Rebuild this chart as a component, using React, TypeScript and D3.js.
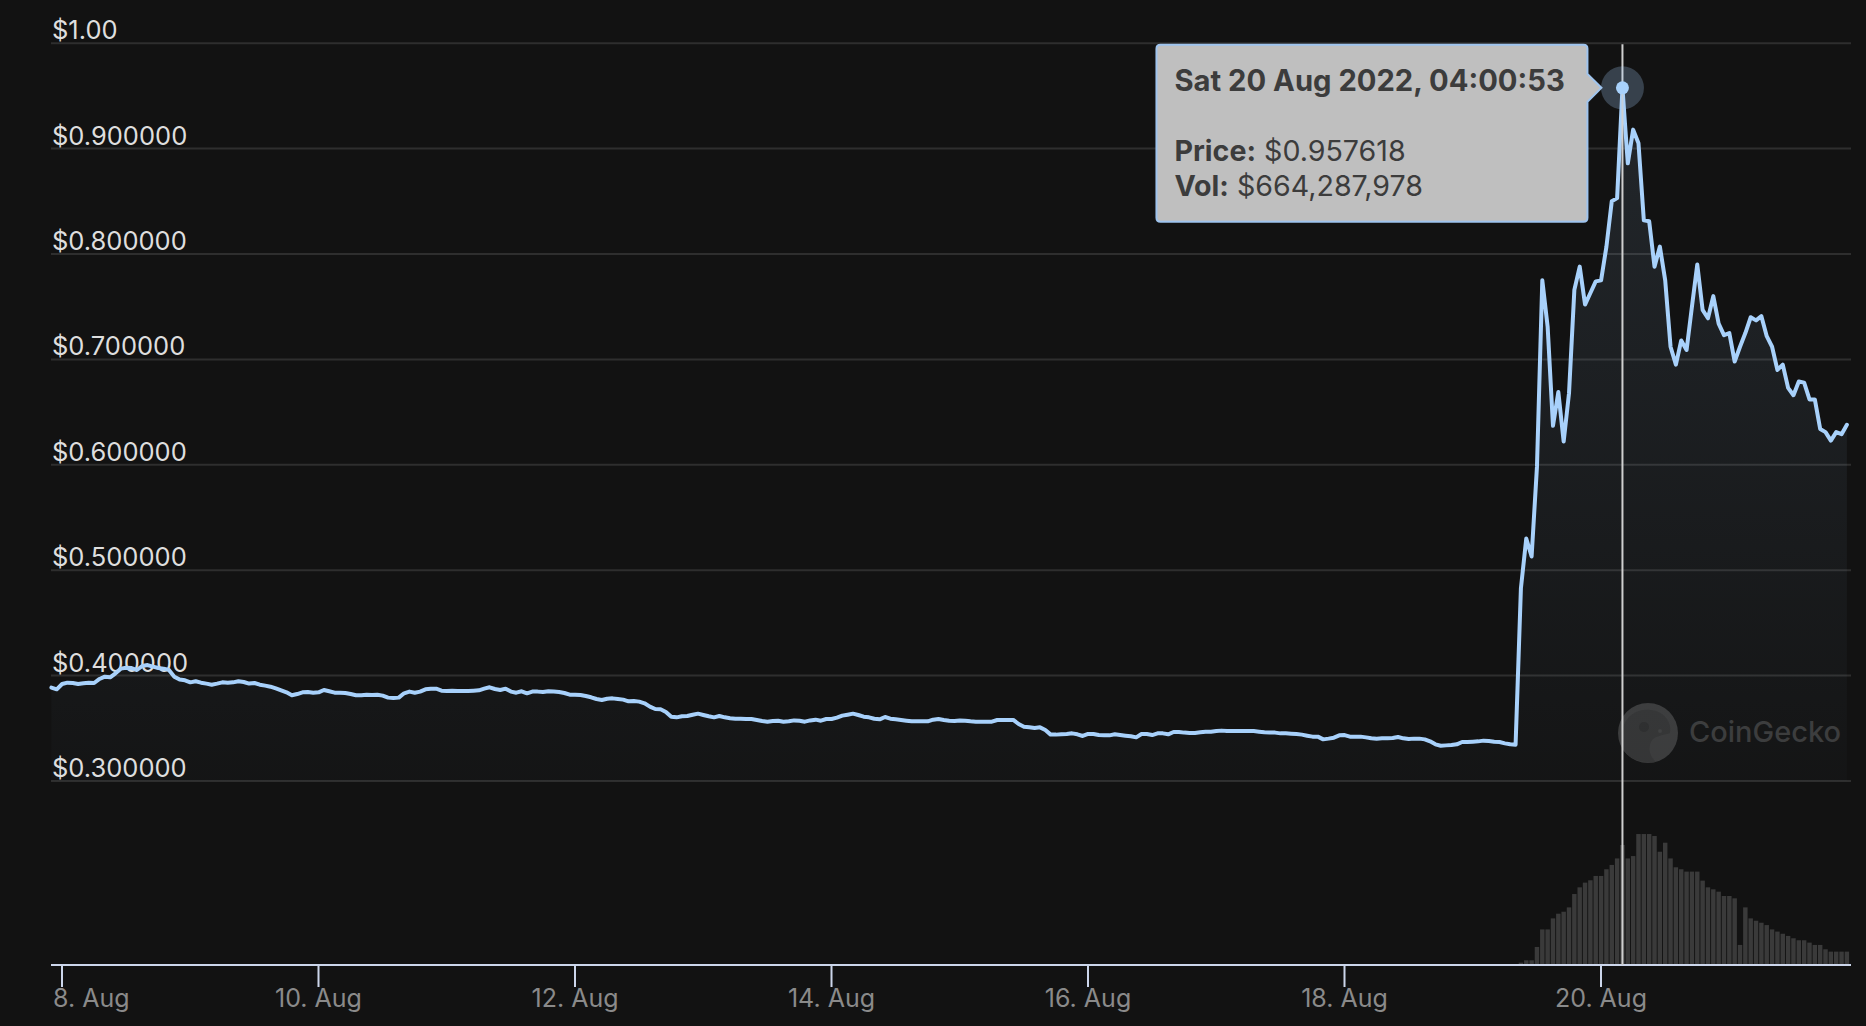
import React, { useEffect, useRef } from "react";
import * as d3 from "d3";

const W = 1866;
const H = 1026;

// Hourly price points, first one at 7 Aug 2022 22:00:53 UTC
const PRICE_START = Date.UTC(2022, 7, 7, 22, 0, 53);
const HOUR = 3600 * 1000;
const prices: number[] = [
  0.3886, 0.387, 0.392, 0.3933, 0.393, 0.392, 0.3927, 0.3933, 0.393, 0.3968,
  0.399, 0.3984, 0.4022, 0.4066, 0.4075, 0.4072, 0.4053, 0.4091, 0.41, 0.4085,
  0.4072, 0.4066, 0.4053, 0.399, 0.3962, 0.3955, 0.3936, 0.3946, 0.3933, 0.3924,
  0.3914, 0.3924, 0.3936, 0.3933, 0.3936, 0.3946, 0.3939, 0.3924, 0.393, 0.3914,
  0.3905, 0.3895, 0.3879, 0.386, 0.3841, 0.3813, 0.3825, 0.3841, 0.3844, 0.3838,
  0.3841, 0.3863, 0.3851, 0.3838, 0.3838, 0.3835, 0.3825, 0.3813, 0.3813, 0.3819,
  0.3816, 0.3819, 0.381, 0.3791, 0.3787, 0.3791, 0.3832, 0.3848, 0.3838, 0.3848,
  0.387, 0.3876, 0.3876, 0.3857, 0.3854, 0.3857, 0.3854, 0.3854, 0.3854, 0.3857,
  0.386, 0.3876, 0.3889, 0.3873, 0.3863, 0.3876, 0.3848, 0.3838, 0.3851, 0.3832,
  0.3848, 0.3848, 0.3844, 0.3851, 0.3848, 0.3844, 0.3835, 0.3819, 0.3819, 0.3816,
  0.3807, 0.3794, 0.3778, 0.3769, 0.3781, 0.3784, 0.3778, 0.3772, 0.3756, 0.3759,
  0.3753, 0.3737, 0.3706, 0.3683, 0.368, 0.3655, 0.361, 0.3604, 0.3614, 0.3617,
  0.3629, 0.3639, 0.3626, 0.3614, 0.3604, 0.3617, 0.3604, 0.3595, 0.3591, 0.3591,
  0.3588, 0.3588, 0.3579, 0.3569, 0.3563, 0.3569, 0.3572, 0.3563, 0.3566, 0.3575,
  0.3572, 0.3563, 0.3575, 0.3582, 0.3572, 0.3588, 0.3588, 0.3601, 0.362, 0.3629,
  0.3639, 0.3626, 0.361, 0.3604, 0.3591, 0.3585, 0.3607, 0.3591, 0.3585, 0.3579,
  0.3572, 0.3566, 0.3566, 0.3566, 0.3566, 0.3582, 0.3588, 0.3579, 0.3572, 0.3569,
  0.3575, 0.3572, 0.3566, 0.3563, 0.3563, 0.3563, 0.3563, 0.3579, 0.3579, 0.3579,
  0.3579, 0.3541, 0.3515, 0.3509, 0.3503, 0.3509, 0.3484, 0.344, 0.344, 0.3443,
  0.3446, 0.3452, 0.3443, 0.3427, 0.3446, 0.3446, 0.3436, 0.3433, 0.3433, 0.3443,
  0.3436, 0.343, 0.3424, 0.3414, 0.3446, 0.3446, 0.3436, 0.3452, 0.3452, 0.3443,
  0.3465, 0.3465, 0.3459, 0.3456, 0.3456, 0.3462, 0.3468, 0.3468, 0.3474, 0.3478,
  0.3474, 0.3474, 0.3474, 0.3474, 0.3474, 0.3474, 0.3468, 0.3462, 0.3459, 0.3459,
  0.3452, 0.3452, 0.3449, 0.3446, 0.344, 0.343, 0.3421, 0.3421, 0.3395, 0.3402,
  0.3411, 0.3433, 0.3436, 0.3421, 0.3421, 0.3421, 0.3414, 0.3405, 0.3402, 0.3405,
  0.3405, 0.3408, 0.3418, 0.3405, 0.3398, 0.3402, 0.3402, 0.3395, 0.3376, 0.3348,
  0.3335, 0.3338, 0.3342, 0.3348, 0.337, 0.337, 0.3373, 0.3376, 0.3383, 0.338,
  0.3373, 0.337, 0.3357, 0.3348, 0.3345, 0.483, 0.53, 0.513, 0.598, 0.775,
  0.731, 0.637, 0.669, 0.622, 0.668, 0.766, 0.788, 0.752, 0.763, 0.774,
  0.775, 0.807, 0.85, 0.853, 0.957618, 0.886, 0.918, 0.905, 0.832, 0.831,
  0.788, 0.807, 0.775, 0.712, 0.695, 0.718, 0.709, 0.75, 0.79, 0.747,
  0.739, 0.76, 0.734, 0.723, 0.725, 0.698, 0.712, 0.725, 0.74, 0.737,
  0.741, 0.722, 0.712, 0.69, 0.695, 0.673, 0.666, 0.679, 0.678, 0.662,
  0.662, 0.634, 0.631, 0.623, 0.631, 0.629, 0.638,
];

// Hourly 24h volume (millions USD), first bar at 19 Aug 2022 09:00:53 UTC
const VOL_START = Date.UTC(2022, 7, 19, 9, 0, 53);
const volumesM: number[] = [
  13, 26, 26, 100, 197, 197, 258, 284, 295, 319,
  393, 430, 456, 469, 493, 493, 530, 554, 590, 664.287978,
  590, 603, 725, 725, 725, 714, 627, 677, 590, 541,
  530, 517, 517, 517, 467, 430, 419, 406, 382, 382,
  369, 111, 319, 258, 245, 234, 221, 197, 185, 173,
  161, 148, 137, 137, 124, 111, 111, 87, 74, 74,
  74, 74,
];

const yTickValues = [0.3, 0.4, 0.5, 0.6, 0.7, 0.8, 0.9, 1.0];
const yTickLabels = [
  "$0.300000", "$0.400000", "$0.500000", "$0.600000",
  "$0.700000", "$0.800000", "$0.900000", "$1.00",
];
const xTickDays = [8, 10, 12, 14, 16, 18, 20];
const xTickLabels = ["8. Aug", "10. Aug", "12. Aug", "14. Aug", "16. Aug", "18. Aug", "20. Aug"];

const hoverIndex = 294;
const tooltipTitle = "Sat 20 Aug 2022, 04:00:53";
const tooltipPrice = "$0.957618";
const tooltipVol = "$664,287,978";

const FONT = "Inter, 'Noto Sans', 'DejaVu Sans', sans-serif";
const LINE = "#a8d1fb";

export default function App() {
  const ref = useRef<SVGSVGElement | null>(null);

  useEffect(() => {
    document.body.style.margin = "0";
    document.body.style.background = "#121212";
    const svg = d3.select(ref.current);
    svg.selectAll("*").remove();

    const plotLeft = 51;
    const plotRight = 1851;
    const axisY = 965;
    const plotTop = 43.2;

    const x = d3
      .scaleUtc()
      .domain([Date.UTC(2022, 7, 8), Date.UTC(2022, 7, 20)])
      .range([62, 1601]);
    const y = d3.scaleLinear().domain([0.3, 1.0]).range([781, plotTop]);
    const vy = d3
      .scaleLinear()
      .domain([0, 900])
      .range([axisY, axisY - (900 / 664.287978) * 120]);

    const pts = prices.map((p, i) => ({ t: PRICE_START + i * HOUR, p }));
    const vols = volumesM.map((v, i) => ({ t: VOL_START + i * HOUR, v }));

    svg.append("rect").attr("width", W).attr("height", H).attr("fill", "#121212");

    const defs = svg.append("defs");
    const grad = defs
      .append("linearGradient")
      .attr("id", "areaGrad")
      .attr("x1", 0).attr("y1", 0).attr("x2", 0).attr("y2", 1);
    grad.append("stop").attr("offset", 0).attr("stop-color", LINE).attr("stop-opacity", 0.11);
    grad.append("stop").attr("offset", 1).attr("stop-color", LINE).attr("stop-opacity", 0.015);

    // watermark
    const wm = svg.append("g");
    wm.append("circle").attr("cx", 1648).attr("cy", 733).attr("r", 30).attr("fill", "#3a3a3a");
    wm.append("path")
      .attr("d", "M1622,748 C1618,725 1630,708 1650,710 C1664,711 1672,722 1670,733 C1662,736 1652,735 1650,745 C1648,752 1652,758 1656,762 C1640,764 1628,758 1622,748 Z")
      .attr("fill", "#333333");
    wm.append("circle").attr("cx", 1644).attr("cy", 727).attr("r", 5).attr("fill", "#2c2c2c");
    wm.append("circle").attr("cx", 1660).attr("cy", 731).attr("r", 2).attr("fill", "#3e3e3e");
    wm.append("text")
      .attr("x", 1689).attr("y", 742)
      .attr("font-family", FONT).attr("font-size", 29).attr("font-weight", 500)
      .attr("fill", "#3a3a3a")
      .text("CoinGecko");

    // gridlines + y labels
    const grid = svg.append("g");
    yTickValues.forEach((v, i) => {
      grid.append("line")
        .attr("x1", plotLeft).attr("x2", plotRight)
        .attr("y1", y(v)).attr("y2", y(v))
        .attr("stroke", "#2e2e2e").attr("stroke-width", 2);
      grid.append("text")
        .attr("x", plotLeft + 1).attr("y", y(v) - 4)
        .attr("font-family", FONT).attr("font-size", 25.5)
        .attr("fill", "#dedede")
        .text(yTickLabels[i]);
    });

    // volume bars
    const barW = (x(Date.UTC(2022, 7, 8, 1)) as number) - (x(Date.UTC(2022, 7, 8)) as number) - 0.9;
    svg.append("g")
      .selectAll("rect")
      .data(vols)
      .join("rect")
      .attr("x", (d) => (x(d.t) as number) - barW / 2)
      .attr("y", (d) => vy(d.v))
      .attr("width", barW)
      .attr("height", (d) => axisY - vy(d.v))
      .attr("fill", "#3a3a3a");

    // area + line
    const area = d3.area<{ t: number; p: number }>()
      .x((d) => x(d.t) as number)
      .y0(y(0.3))
      .y1((d) => y(d.p));
    svg.append("path").attr("d", area(pts) as string).attr("fill", "url(#areaGrad)");
    const line = d3.line<{ t: number; p: number }>()
      .x((d) => x(d.t) as number)
      .y((d) => y(d.p));
    svg.append("path")
      .attr("d", line(pts) as string)
      .attr("fill", "none")
      .attr("stroke", LINE)
      .attr("stroke-width", 4)
      .attr("stroke-linejoin", "round")
      .attr("stroke-linecap", "round");

    // x axis
    const ax = svg.append("g");
    ax.append("line")
      .attr("x1", plotLeft).attr("x2", plotRight)
      .attr("y1", axisY).attr("y2", axisY)
      .attr("stroke", "#ccd6eb").attr("stroke-width", 2);
    xTickDays.forEach((d, i) => {
      const tx = x(Date.UTC(2022, 7, d)) as number;
      ax.append("line")
        .attr("x1", tx).attr("x2", tx)
        .attr("y1", axisY).attr("y2", axisY + 22)
        .attr("stroke", "#ccd6eb").attr("stroke-width", 2);
      const t = ax.append("text")
        .attr("x", tx).attr("y", 1007)
        .attr("text-anchor", "middle")
        .attr("font-family", FONT).attr("font-size", 25)
        .attr("fill", "#8a8a8a")
        .text(xTickLabels[i]);
      const node = t.node() as SVGTextElement;
      const w = node.getComputedTextLength();
      if (tx - w / 2 < plotLeft) {
        t.attr("text-anchor", "start").attr("x", plotLeft + 2);
      }
    });

    // crosshair + hover marker
    const hp = pts[hoverIndex];
    const px = x(hp.t) as number;
    const py = y(hp.p);
    svg.append("line")
      .attr("x1", px).attr("x2", px)
      .attr("y1", plotTop + 1).attr("y2", axisY)
      .attr("stroke", "#cfcfcf").attr("stroke-width", 2);
    svg.append("circle").attr("cx", px).attr("cy", py).attr("r", 21.5)
      .attr("fill", LINE).attr("fill-opacity", 0.25);
    svg.append("circle").attr("cx", px).attr("cy", py).attr("r", 6.5).attr("fill", LINE);

    // tooltip
    const bx1 = px - 35;
    const bw = 431;
    const bx0 = bx1 - bw;
    const by0 = py - 43;
    const bh = 177;
    const r = 4;
    const tip = px - 21;
    const ah = 14;
    const path = [
      `M${bx0 + r},${by0}`,
      `L${bx1 - r},${by0}`,
      `Q${bx1},${by0} ${bx1},${by0 + r}`,
      `L${bx1},${py - ah}`,
      `L${tip},${py}`,
      `L${bx1},${py + ah}`,
      `L${bx1},${by0 + bh - r}`,
      `Q${bx1},${by0 + bh} ${bx1 - r},${by0 + bh}`,
      `L${bx0 + r},${by0 + bh}`,
      `Q${bx0},${by0 + bh} ${bx0},${by0 + bh - r}`,
      `L${bx0},${by0 + r}`,
      `Q${bx0},${by0} ${bx0 + r},${by0}`,
      "Z",
    ].join(" ");
    const tg = svg.append("g");
    tg.append("path").attr("d", path)
      .attr("fill", "#bfbfbf").attr("stroke", "#9fc4ee").attr("stroke-width", 2);
    tg.append("text")
      .attr("x", bx0 + 18).attr("y", by0 + 46)
      .attr("font-family", FONT).attr("font-size", 29.2).attr("font-weight", 700)
      .attr("fill", "#3c3c3c")
      .text(tooltipTitle);
    const t1 = tg.append("text")
      .attr("x", bx0 + 18).attr("y", by0 + 116)
      .attr("font-family", FONT).attr("font-size", 28.6).attr("fill", "#3c3c3c");
    t1.append("tspan").attr("font-weight", 700).text("Price:");
    t1.append("tspan").text(" " + tooltipPrice);
    const t2 = tg.append("text")
      .attr("x", bx0 + 18).attr("y", by0 + 151)
      .attr("font-family", FONT).attr("font-size", 28.6).attr("fill", "#3c3c3c");
    t2.append("tspan").attr("font-weight", 700).text("Vol:");
    t2.append("tspan").text(" " + tooltipVol);
  }, []);

  return (
    <svg
      ref={ref}
      width={W}
      height={H}
      style={{ position: "absolute", left: 0, top: 0, display: "block" }}
    />
  );
}
